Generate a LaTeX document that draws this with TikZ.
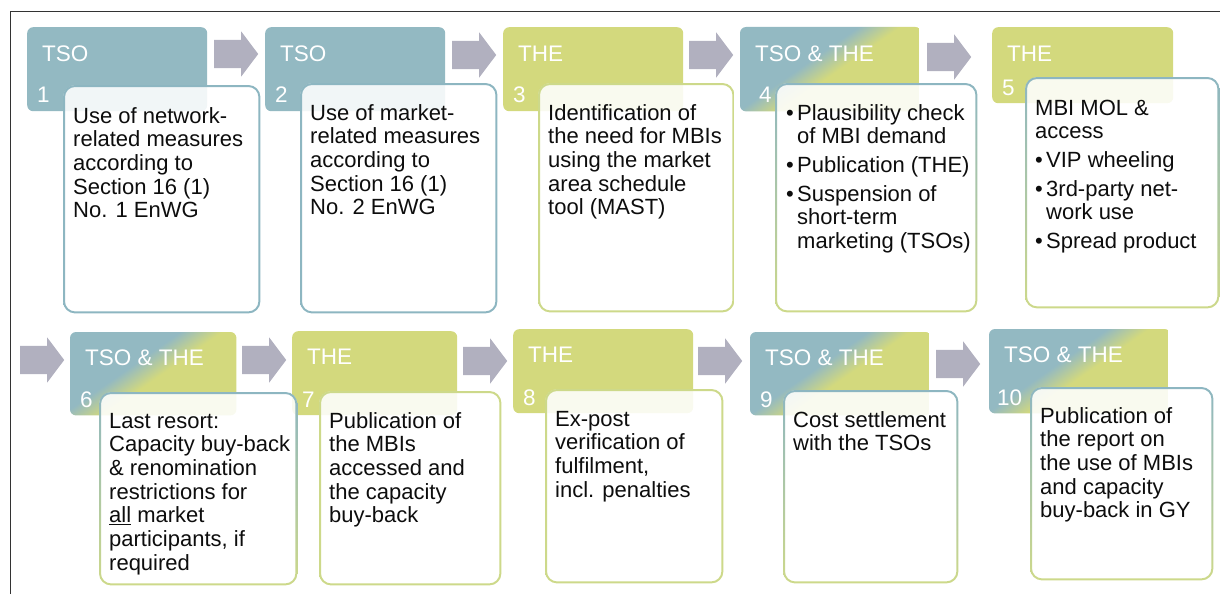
\documentclass[tikz,border=0pt]{standalone}
\usepackage{fontspec}
\setmainfont{Liberation Sans}
\usetikzlibrary{shapes,arrows,calc,positioning}

\definecolor{tsoblue}{HTML}{93B9C2}
\definecolor{thegreen}{HTML}{D3D97D}
\definecolor{arrowgray}{HTML}{B1B0BF}
\definecolor{edgeblue}{HTML}{8DB6C1}
\definecolor{edgegreen}{HTML}{CDD98A}
\definecolor{framegray}{HTML}{333333}

\pgfdeclareverticalshading{duo}{100bp}{color(0bp)=(thegreen); color(47bp)=(thegreen); color(53bp)=(tsoblue); color(100bp)=(tsoblue)}

\tikzstyle{head} = [rectangle, rounded corners=6pt, anchor=north west, inner sep=0pt, minimum width=180pt, minimum height=84pt]
\tikzstyle{card} = [rectangle, rounded corners=12pt, fill=white, fill opacity=0.88, anchor=north west, inner sep=0pt]
\tikzstyle{who} = [anchor=base west, inner sep=0pt, text=white, font=\fontsize{22.5}{24}\selectfont]
\tikzstyle{txt} = [anchor=base west, inner sep=0pt, text=black!95, font=\fontsize{22}{23.7}\selectfont]
\tikzstyle{go} = [single arrow, fill=arrowgray, anchor=tail, inner sep=0pt, minimum height=44pt, single arrow head extend=8.5pt, single arrow tip angle=106]

\newcommand{\lines}[1]{\parbox[t]{200pt}{\raggedright #1}}
\newcommand{\bul}{\makebox[11pt][l]{\textbullet}}
\newcommand{\cont}{\hspace*{11pt}}
\newcommand{\shaft}{\rule{0pt}{28pt}}
% blue-to-green diagonal fill of a shared header
\newcommand{\mixhead}[1]{%
  \begin{scope}
    \clip[rounded corners=6pt] (#1.north west) rectangle (#1.south east);
    \shade[shading=duo, shading angle=35] ($(#1.center)+(-112,-100)$) rectangle ($(#1.center)+(88,100)$);
  \end{scope}}
% ring with a top-to-bottom colour change round a card
\newcommand{\cardedge}[3]{%
  \shade[top color=#2, bottom color=#3, even odd rule]
    [rounded corners=12pt] (#1.north west) rectangle (#1.south east)
    [rounded corners=10pt] ($(#1.north west)+(2,2)$) rectangle ($(#1.south east)+(-2,-2)$);}

\begin{document}
\begin{tikzpicture}[x=1pt, y=-1pt]
	\useasboundingbox (0,0) rectangle (1220,594);
	\draw[framegray, line width=1pt] (10.5,594) -- (10.5,11.5) -- (1220,11.5);

	% headers
	\node [head, fill=tsoblue] (h1) at (27,27) {};
	\node [head, fill=tsoblue] (h2) at (265,27) {};
	\node [head, fill=thegreen] (h3) at (503,27) {};
	\node [head, minimum width=181pt] (h4) at (740,27) {};
	\node [head, fill=thegreen, minimum width=181pt, minimum height=76pt] (h5) at (992,27) {};
	\node [head, minimum width=166pt, minimum height=83pt] (h6) at (70,332) {};
	\node [head, fill=thegreen, minimum width=165pt] (h7) at (292,331) {};
	\node [head, fill=thegreen] (h8) at (513,329) {};
	\node [head, minimum width=181pt, minimum height=83pt] (h9) at (750,332) {};
	\node [head, minimum width=181pt] (h10) at (989,329) {};
	\mixhead{h4}
	\mixhead{h6}
	\mixhead{h9}
	\mixhead{h10}

	\node [who] (w1) at ($(h1.north west)+(15,35)$) {TSO};
	\node [who] (w2) at ($(h2.north west)+(15,35)$) {TSO};
	\node [who] (w3) at ($(h3.north west)+(15,35)$) {THE};
	\node [who] (w4) at ($(h4.north west)+(15,35)$) {TSO \& THE};
	\node [who] (w5) at ($(h5.north west)+(15,34)$) {THE};
	\node [who] (w6) at ($(h6.north west)+(15,33)$) {TSO \& THE};
	\node [who] (w7) at ($(h7.north west)+(15,33)$) {THE};
	\node [who] (w8) at ($(h8.north west)+(15,33)$) {THE};
	\node [who] (w9) at ($(h9.north west)+(15,33)$) {TSO \& THE};
	\node [who] (w10) at ($(h10.north west)+(15,33)$) {TSO \& THE};

	\node [who] (n1) at ($(h1.south west)+(10,-9)$) {1};
	\node [who] (n2) at ($(h2.south west)+(10,-9)$) {2};
	\node [who] (n3) at ($(h3.south west)+(10,-9)$) {3};
	\node [who] (n4) at ($(h4.south west)+(19,-9)$) {4};
	\node [who] (n5) at ($(h5.south west)+(10,-8)$) {5};
	\node [who] (n6) at ($(h6.south west)+(10,-8)$) {6};
	\node [who] (n7) at ($(h7.south west)+(10,-8)$) {7};
	\node [who] (n8) at ($(h8.south west)+(10,-8)$) {8};
	\node [who] (n9) at ($(h9.south west)+(10,-8)$) {9};
	\node [who] (n10) at ($(h10.south west)+(8,-8)$) {10};

	% cards
	\node [card, minimum width=197pt, minimum height=228pt] (c1) at (63,85) {};
	\node [card, minimum width=197pt, minimum height=230pt] (c2) at (300,83) {};
	\node [card, minimum width=196pt, minimum height=229pt] (c3) at (538,83) {};
	\node [card, minimum width=202pt, minimum height=229pt] (c4) at (775,83) {};
	\node [card, minimum width=194pt, minimum height=231pt] (c5) at (1025,77) {};
	\node [card, minimum width=198pt, minimum height=193pt] (c6) at (99,392) {};
	\node [card, minimum width=182pt, minimum height=194pt] (c7) at (319,391) {};
	\node [card, minimum width=178pt, minimum height=194pt] (c8) at (545,389) {};
	\node [card, minimum width=175pt, minimum height=193pt] (c9) at (783,390) {};
	\node [card, minimum width=183pt, minimum height=193pt] (c10) at (1030,387) {};

	\cardedge{c1}{edgeblue}{edgeblue}
	\cardedge{c2}{edgeblue}{edgeblue}
	\cardedge{c3}{edgegreen}{edgegreen}
	\cardedge{c4}{edgeblue}{edgegreen}
	\cardedge{c5}{edgeblue}{edgegreen}
	\cardedge{c6}{edgeblue}{edgegreen}
	\cardedge{c7}{edgegreen}{edgegreen}
	\cardedge{c8}{edgegreen}{edgegreen}
	\cardedge{c9}{edgeblue}{edgegreen}
	\cardedge{c10}{edgeblue}{edgegreen}

	\node [txt] (t1) at ($(c1.north west)+(10,38)$) {\lines{Use of network-\\related measures\\according to\\Section 16 (1)\\No. 1 EnWG}};
	\node [txt] (t2) at ($(c2.north west)+(10,37)$) {\lines{Use of market-\\related measures\\according to\\Section 16 (1)\\No. 2 EnWG}};
	\node [txt] (t3) at ($(c3.north west)+(10,37)$) {\lines{Identification of\\the need for MBIs\\using the market\\area schedule\\tool (MAST)}};
	\node [txt] (t4) at ($(c4.north west)+(11,37)$) {\lines{\bul Plausibility check\\\cont of MBI demand\\[5pt]\bul Publication (THE)\\[5pt]\bul Suspension of\\\cont short-term\\\cont marketing (TSOs)}};
	\node [txt] (t5) at ($(c5.north west)+(10,38)$) {\lines{MBI MOL \&\\access\\[5pt]\bul VIP wheeling\\[5pt]\bul 3rd-party net-\\\cont work use\\[5pt]\bul Spread product}};
	\node [txt] (t6) at ($(c6.north west)+(10,36)$) {\lines{Last resort:\\Capacity buy-back\\\& renomination\\restrictions for\\\underline{all} market\\participants, if\\required}};
	\node [txt] (t7) at ($(c7.north west)+(10,37)$) {\lines{Publication of\\the MBIs\\accessed and\\the capacity\\buy-back}};
	\node [txt] (t8) at ($(c8.north west)+(10,37)$) {\lines{Ex-post\\verification of\\fulfilment,\\incl. penalties}};
	\node [txt] (t9) at ($(c9.north west)+(10,37)$) {\lines{Cost settlement\\with the TSOs}};
	\node [txt] (t10) at ($(c10.north west)+(10,36)$) {\lines{Publication of\\the report on\\the use of MBIs\\and capacity\\buy-back in GY}};

	% arrows between the steps
	\node [go] (a1) at (214,54) {\shaft};
	\node [go] (a2) at (452,55) {\shaft};
	\node [go] (a3) at (689,55) {\shaft};
	\node [go] (a4) at (927,57) {\shaft};
	\node [go] (a5) at (20,360) {\shaft};
	\node [go] (a6) at (242,360) {\shaft};
	\node [go] (a7) at (463,361) {\shaft};
	\node [go] (a8) at (698,361) {\shaft};
	\node [go] (a9) at (936,364) {\shaft};
\end{tikzpicture}
\end{document}
